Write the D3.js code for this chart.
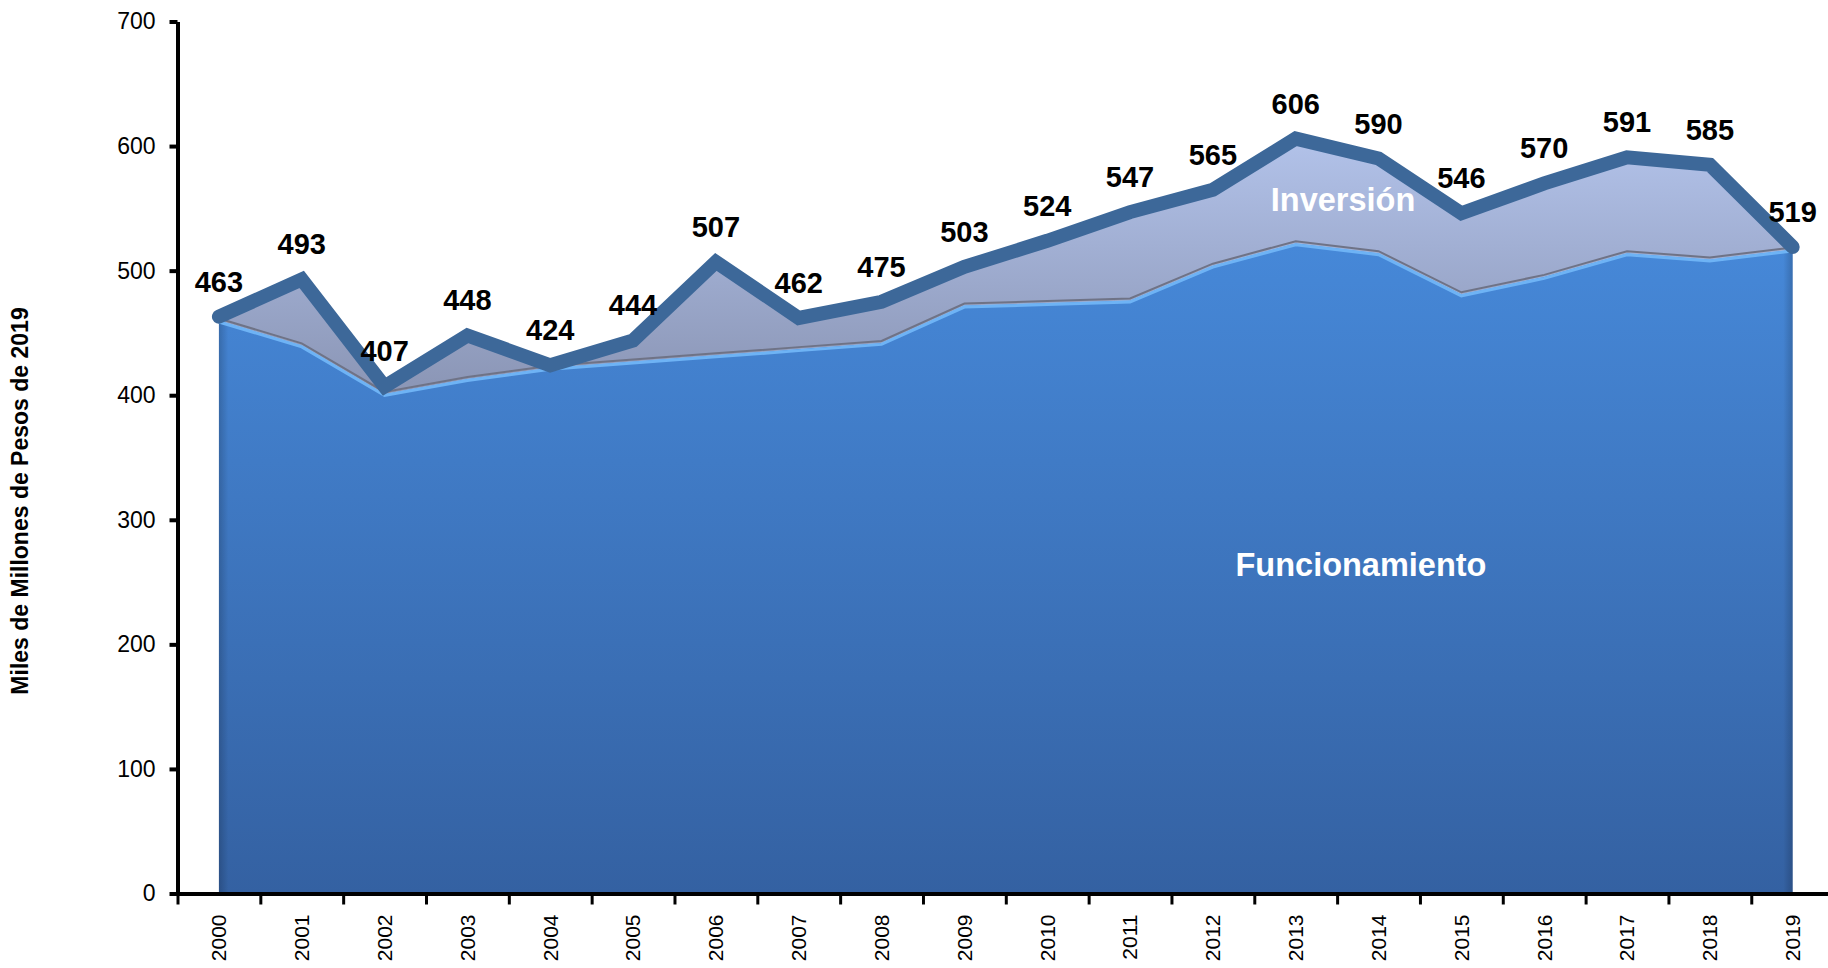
<!DOCTYPE html>
<html>
<head>
<meta charset="utf-8">
<script src="https://cdn.jsdelivr.net/npm/d3@7/dist/d3.min.js"></script>
<style>
    html, body { margin: 0; padding: 0; background: #ffffff; overflow: hidden; }
    svg { display: block; }
</style>
</head>
<body>
<svg id="chart"></svg>
<script>
// years on the x axis
var years = ["2000", "2001", "2002", "2003", "2004", "2005", "2006", "2007", "2008", "2009",
             "2010", "2011", "2012", "2013", "2014", "2015", "2016", "2017", "2018", "2019"];

// total (labelled values)
var total = [463, 493, 407, 448, 424, 444, 507, 462, 475, 503,
             524, 547, 565, 606, 590, 546, 570, 591, 585, 519];

// funcionamiento
var funcionamiento = [460, 440, 401, 413, 422, 427, 432, 437, 442, 472,
                      474, 476, 504, 522, 514, 481, 495, 514, 509, 517];

// y axis ticks
var yTicks = [0, 100, 200, 300, 400, 500, 600, 700];

var width = 1828;
var height = 968;

var svg = d3.select("#chart")
    .attr("width", width)
    .attr("height", height);

// plot area, the right edge runs past the picture like the reference
var left = 177.5;
var band = 82.83;
var x = d3.scaleBand()
    .domain(years)
    .range([left, left + band * years.length]);

var xEdges = d3.scaleLinear()
    .domain([0, years.length])
    .range([left, left + band * years.length]);

var y = d3.scaleLinear()
    .domain([0, 700])
    .range([893.5, 21.5]);

function cx(d, i) {
    return x(years[i]) + x.bandwidth() / 2;
}

var rows = years.map(function(d, i) {
    return {"year": d, "func": funcionamiento[i], "total": total[i]};
});

// gradients
var defs = svg.append("defs");

var blueGrad = defs.append("linearGradient")
    .attr("id", "blue_grad")
    .attr("gradientUnits", "userSpaceOnUse")
    .attr("x1", 0).attr("x2", 0)
    .attr("y1", y(520)).attr("y2", y(0));
blueGrad.append("stop").attr("offset", "0%").attr("stop-color", "#4688d8");
blueGrad.append("stop").attr("offset", "100%").attr("stop-color", "#3461a2");

var greyGrad = defs.append("linearGradient")
    .attr("id", "grey_grad")
    .attr("gradientUnits", "userSpaceOnUse")
    .attr("x1", 0).attr("x2", 0)
    .attr("y1", y(600)).attr("y2", y(410));
greyGrad.append("stop").attr("offset", "0%").attr("stop-color", "#b1c1e8");
greyGrad.append("stop").attr("offset", "100%").attr("stop-color", "#8c97b7");

var edgeGrad = defs.append("linearGradient")
    .attr("id", "edge_grad")
    .attr("x1", 0).attr("x2", 1)
    .attr("y1", 0).attr("y2", 0);
edgeGrad.append("stop").attr("offset", "0%").attr("stop-color", "#000").attr("stop-opacity", 0.18);
edgeGrad.append("stop").attr("offset", "0.6%").attr("stop-color", "#000").attr("stop-opacity", 0);
edgeGrad.append("stop").attr("offset", "99.4%").attr("stop-color", "#000").attr("stop-opacity", 0);
edgeGrad.append("stop").attr("offset", "100%").attr("stop-color", "#000").attr("stop-opacity", 0.18);

// inversion area (between funcionamiento and total)
var invArea = d3.area()
    .x(cx)
    .y0(function(d) { return y(d.func); })
    .y1(function(d) { return y(d.total); });

svg.append("path")
    .datum(rows)
    .attr("d", invArea)
    .attr("fill", "url(#grey_grad)");

// shadow under the inversion band
var funcLine = d3.line()
    .x(cx)
    .y(function(d) { return y(d.func); });

svg.append("path")
    .datum(rows)
    .attr("d", funcLine)
    .attr("fill", "none")
    .attr("stroke", "#6f7386")
    .attr("stroke-width", 2)
    .attr("transform", "translate(0,-2)");

// funcionamiento area
var funcArea = d3.area()
    .x(cx)
    .y0(y(0))
    .y1(function(d) { return y(d.func); });

svg.append("path")
    .datum(rows)
    .attr("d", funcArea)
    .attr("fill", "url(#blue_grad)");

svg.append("path")
    .datum(rows)
    .attr("d", funcArea)
    .attr("fill", "url(#edge_grad)");

// light edge on top of the blue area
svg.append("path")
    .datum(rows)
    .attr("d", funcLine)
    .attr("fill", "none")
    .attr("stroke", "#6eb3f5")
    .attr("stroke-width", 3)
    .attr("transform", "translate(0,1.5)");

// total line
var totalLine = d3.line()
    .x(cx)
    .y(function(d) { return y(d.total); });

svg.append("path")
    .datum(rows)
    .attr("d", totalLine)
    .attr("fill", "none")
    .attr("stroke", "#3d6899")
    .attr("stroke-width", 14)
    .attr("stroke-linejoin", "miter")
    .attr("stroke-linecap", "round");

// value labels
svg.selectAll()
    .data(rows)
    .enter()
    .append("text")
    .attr("x", cx)
    .attr("y", function(d) { return y(d.total) - 25; })
    .attr("text-anchor", "middle")
    .attr("font-family", "'Liberation Sans Narrow', 'Arial Narrow', 'Liberation Sans', sans-serif")
    .attr("font-weight", "bold")
    .attr("font-size", "29px")
    .attr("fill", "#000")
    .text(function(d) { return d.total; });

// series names inside the areas
svg.append("text")
    .attr("x", 1343)
    .attr("y", 211)
    .attr("text-anchor", "middle")
    .attr("font-family", "'Liberation Sans', Arial, sans-serif")
    .attr("font-weight", "bold")
    .attr("font-size", "32.5px")
    .attr("fill", "#ffffff")
    .text("Inversión");

svg.append("text")
    .attr("x", 1361)
    .attr("y", 576)
    .attr("text-anchor", "middle")
    .attr("font-family", "'Liberation Sans', Arial, sans-serif")
    .attr("font-weight", "bold")
    .attr("font-size", "32.5px")
    .attr("fill", "#ffffff")
    .text("Funcionamiento");

// y axis
var yAxis = svg.append("g")
    .attr("transform", "translate(" + left + ",0)")
    .call(d3.axisLeft(y)
        .tickValues(yTicks)
        .tickSize(8)
        .tickSizeOuter(0)
        .tickPadding(14));

yAxis.selectAll("path, line")
    .attr("stroke", "#000")
    .attr("stroke-width", 4);
yAxis.selectAll("text")
    .attr("font-family", "'Liberation Sans', Arial, sans-serif")
    .attr("font-size", "23px")
    .attr("fill", "#000");

// x axis: ticks on the category edges
var xAxis = svg.append("g")
    .attr("transform", "translate(0," + y(0) + ")")
    .call(d3.axisBottom(xEdges)
        .tickValues(d3.range(0, years.length + 1))
        .tickSize(11)
        .tickSizeOuter(0)
        .tickFormat(""));

xAxis.select("path")
    .attr("stroke", "#000")
    .attr("stroke-width", 4);
xAxis.selectAll("line")
    .attr("stroke", "#000")
    .attr("stroke-width", 3);

// x labels, turned upright
var xLabels = svg.append("g")
    .attr("transform", "translate(0," + y(0) + ")")
    .call(d3.axisBottom(x)
        .tickSize(0)
        .tickPadding(0));

xLabels.select("path").remove();
xLabels.selectAll("text")
    .attr("font-family", "'Liberation Sans', Arial, sans-serif")
    .attr("font-size", "21px")
    .attr("fill", "#000")
    .attr("text-anchor", "end")
    .attr("dy", "0.35em")
    .attr("dx", 0)
    .attr("transform", "translate(0,21) rotate(-90)");

// y axis title
svg.append("text")
    .attr("transform", "translate(28,501) rotate(-90)")
    .attr("text-anchor", "middle")
    .attr("font-family", "'Liberation Sans', Arial, sans-serif")
    .attr("font-weight", "bold")
    .attr("font-size", "23px")
    .attr("fill", "#000")
    .text("Miles de Millones de Pesos de 2019");
</script>
</body>
</html>
